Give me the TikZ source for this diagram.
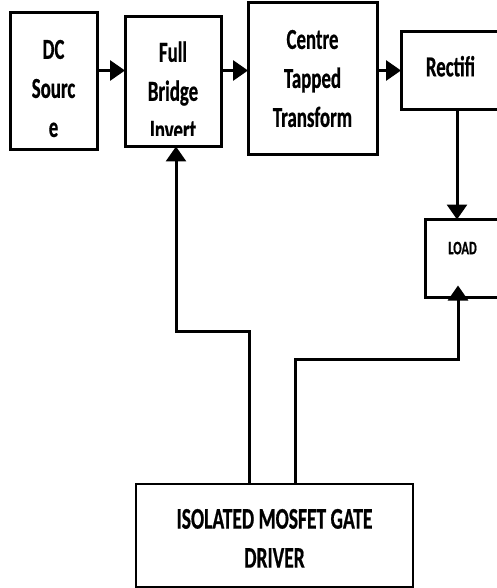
\documentclass[tikz,border=0pt]{standalone}
\usepackage{fontspec}
\newfontfamily\boxfont[FakeStretch=0.65, FakeBold=0.6]{Carlito}
\usetikzlibrary{positioning, arrows.meta}

\begin{document}
\begin{tikzpicture}[
  x=1pt, y=1pt,
  box/.style={draw, line width=3pt, outer sep=0pt, inner sep=0pt, align=center,
    font=\boxfont\bfseries\fontsize{29}{39}\selectfont},
  boxtext/.style={anchor=center, inner sep=0pt, align=center, font=\boxfont\bfseries\fontsize{29}{39}\selectfont},
  arrow/.style={-{Triangle[length=15pt, width=20pt]}, line width=3pt}
]
\useasboundingbox (0,0) rectangle (497,-588);

\node[box, minimum width=87pt, minimum height=137pt] (src) at (53.5,-81.5) {\rule{0pt}{33pt}DC\\Sourc\\e};
\node[box, right=28pt of src, minimum width=96pt, minimum height=130pt,
  path picture={
    \clip (path picture bounding box.north west) rectangle ([yshift=11pt]path picture bounding box.south east);
    \node[boxtext] at (path picture bounding box.center) {\rule{0pt}{38.8pt}Full\\Bridge\\Invert};
  }] (inv) {};
\node[box, right=27pt of inv, yshift=3pt, minimum width=129pt, minimum height=152pt] (trf) {Centre\\Tapped\\Transform};
\node[box, right=24pt of trf, yshift=8pt, minimum width=99pt, minimum height=78pt, text depth=8.7pt] (rec) {Rectifi};
\node[box, below=110pt of rec.south east, anchor=north east, minimum width=75pt, minimum height=78pt,
  font=\boxfont\bfseries\fontsize{19}{23}\selectfont, text depth=21pt] (load) {LOAD};
\node[box, line width=2.2pt, minimum width=277pt, minimum height=103pt,
  font=\boxfont\bfseries\fontsize{30}{39}\selectfont] (drv) at (274.5,-535.5) {\rule{0pt}{25.3pt}ISOLATED MOSFET GATE\\DRIVER};

\draw[arrow] (src.east |- rec.west) -- (inv.west |- rec.west);
\draw[arrow] (inv.east |- rec.west) -- (trf.west |- rec.west);
\draw[arrow] (trf.east |- rec.west) -- (rec.west);
\draw[arrow] ([xshift=-5.5pt]load.north |- rec.south) -- ([xshift=-5.5pt]load.north);

\draw[arrow] ([xshift=-25.5pt]drv.north) -- ++(0,153) -| ([xshift=3pt]inv.south);
\draw[arrow, shorten >=-12pt] ([xshift=20.5pt]drv.north) -- ++(0,125) -| ([xshift=-4.5pt]load.south);

\end{tikzpicture}
\end{document}
